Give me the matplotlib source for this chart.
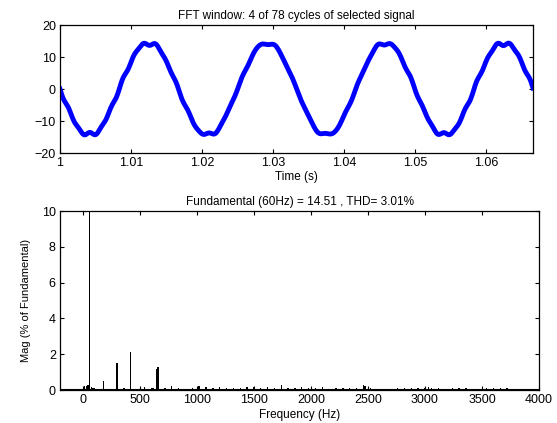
import numpy as np
import matplotlib
matplotlib.use("Agg")
import matplotlib.pyplot as plt

plt.rcParams['font.family'] = ['Liberation Sans', 'DejaVu Sans']

# FFT analysis results (magnitude in % of fundamental)
fundamental_hz = 60
fundamental_mag = 14.51
thd = 3.01
n_cycles = 4
total_cycles = 78

harmonic_freqs = [0, 15, 30, 45, 60, 75, 90, 105, 180, 240, 300, 360, 420, 480,
                  540, 600, 615, 645, 660, 720, 780, 840, 960, 1020, 1080, 1140,
                  1200, 1260, 1320, 1380, 1440, 1500, 1560, 1620, 1680, 1740,
                  1800, 1860, 1920, 1980, 2040, 2100, 2220, 2280, 2340, 2400,
                  2460, 2475, 2520, 2580, 2700, 2760, 2820, 2880, 2940, 3000,
                  3030, 3060, 3120, 3180, 3240, 3300, 3360, 3480, 3540, 3600,
                  3660, 3720, 3840, 3900]
harmonic_mags = [0.05, 0.2, 0.25, 0.3, 100, 0.15, 0.1, 0.1, 0.5, 0.08, 1.5, 0.1, 2.1, 0.08,
                 0.15, 0.12, 0.1, 1.2, 1.3, 0.1, 0.25, 0.1, 0.1, 0.2, 0.15, 0.1,
                 0.15, 0.1, 0.12, 0.1, 0.15, 0.15, 0.1, 0.15, 0.12, 0.3,
                 0.1, 0.12, 0.15, 0.1, 0.12, 0.15, 0.12, 0.1, 0.1, 0.1,
                 0.3, 0.2, 0.1, 0.08, 0.08, 0.12, 0.1, 0.1, 0.12, 0.1,
                 0.15, 0.1, 0.1, 0.08, 0.1, 0.1, 0.1, 0.08, 0.1, 0.12,
                 0.1, 0.1, 0.08, 0.08]
# phases (rad) of the harmonics that shape the waveform
shape_freqs = [60, 180, 300, 420, 645, 660]
shape_phases = [np.pi, np.pi, 0.0, np.pi, np.pi, np.pi]

# rebuild the windowed time signal from the main spectral lines
fs = 8000
t = 1 + np.arange(int(fs * n_cycles / fundamental_hz) + 1) / fs
signal = np.zeros_like(t)
for f, ph in zip(shape_freqs, shape_phases):
    amp = fundamental_mag * harmonic_mags[harmonic_freqs.index(f)] / 100
    signal += amp * np.sin(2 * np.pi * f * (t - 1) + ph)

fig = plt.figure(figsize=(5.57, 4.23), dpi=100)
ax1 = fig.add_axes([60 / 557, 1 - 153 / 423, 473 / 557, 128 / 423])
ax2 = fig.add_axes([60 / 557, 1 - 390 / 423, 479 / 557, 179 / 423])

ax1.plot(t, signal, color='#0000ff', linewidth=3.5)
ax1.set_xlim(1, t[-1])
ax1.set_ylim(-20, 20)
ax1.set_yticks([-20, -10, 0, 10, 20])
ax1.set_xticks([1, 1.01, 1.02, 1.03, 1.04, 1.05, 1.06])
ax1.set_xticklabels(['1', '1.01', '1.02', '1.03', '1.04', '1.05', '1.06'])
ax1.set_title(f'FFT window: {n_cycles} of {total_cycles} cycles of selected signal',
              fontsize=8.5, pad=4)
ax1.set_xlabel('Time (s)', fontsize=8.5, labelpad=1)

ax2.bar(harmonic_freqs, harmonic_mags, width=12, color='black')
ax2.axhline(0, color='black', linewidth=1.5)
ax2.set_xlim(-200, 4000)
ax2.set_ylim(0, 10)
ax2.set_yticks([0, 2, 4, 6, 8, 10])
ax2.set_xticks(range(0, 4001, 500))
ax2.set_title(f'Fundamental ({fundamental_hz}Hz) = {fundamental_mag:.2f} , THD= {thd:.2f}%',
              fontsize=8.5, pad=4)
ax2.set_xlabel('Frequency (Hz)', fontsize=8.5, labelpad=2)
ax2.set_ylabel('Mag (% of Fundamental)', fontsize=8, labelpad=8)

for ax in (ax1, ax2):
    ax.tick_params(direction='in', top=True, right=True, length=3,
                   labelsize=9, pad=3)
    for sp in ax.spines.values():
        sp.set_linewidth(0.9)

fig.savefig('out.png', dpi=100, facecolor='white')
